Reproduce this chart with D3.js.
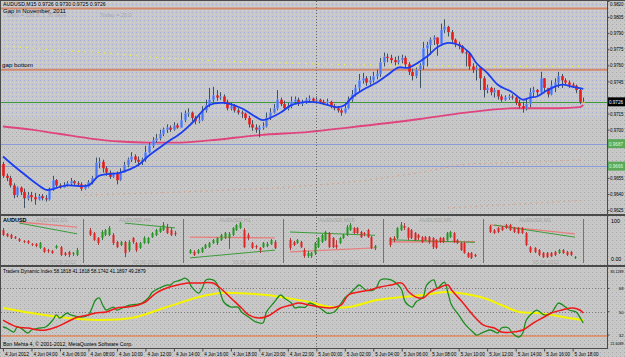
<!DOCTYPE html>
<html><head><meta charset="utf-8">
<script src="https://cdn.jsdelivr.net/npm/d3@7"></script>
<style>
html,body{margin:0;padding:0;background:#c8c8c8;overflow:hidden}
svg{display:block}
text{font-family:"Liberation Sans",Arial,sans-serif}
</style>
</head><body>
<svg id="c" width="625" height="357"></svg>
<script>
// ---------------- DATA (prices in 1/10000, e.g. 9726 = 0.9726) ----------------
const firstOpen = 9668;
const close = [9657,9655,9648,9639,9646,9642,9636,9639,9637,9635,
9638,9636,9635,9644,9653,9648,9646,9648,9650,9652,
9650,9649,9645,9647,9651,9655,9669,9670,9664,9660,
9656,9659,9653,9660,9667,9672,9675,9672,9670,9672,
9679,9685,9690,9692,9696,9700,9702,9700,9704,9702,
9709,9715,9716,9711,9708,9709,9718,9723,9728,9732,
9730,9731,9726,9720,9722,9718,9716,9715,9711,9705,
9702,9700,9702,9703,9711,9716,9720,9728,9724,9720,
9722,9726,9728,9724,9725,9728,9729,9727,9728,9726,
9725,9726,9722,9720,9718,9716,9720,9728,9733,9739,
9746,9748,9744,9746,9750,9752,9763,9768,9767,9765,
9763,9765,9767,9761,9754,9750,9756,9760,9776,9779,
9784,9786,9780,9793,9796,9791,9784,9780,9778,9772,
9771,9759,9756,9758,9748,9737,9739,9735,9737,9731,
9728,9730,9731,9730,9725,9722,9720,9724,9735,9737,
9735,9748,9739,9733,9741,9744,9750,9746,9744,9742,
9741,9737,9726,9726];
const high = [9670,9659,9657,9650,9647,9647,9645,9642,9642,9641,
9640,9640,9639,9646,9657,9654,9650,9651,9652,9655,
9653,9652,9651,9649,9653,9657,9674,9674,9672,9666,
9662,9660,9661,9664,9670,9674,9679,9677,9675,9674,
9685,9688,9693,9696,9700,9702,9705,9704,9707,9706,
9716,9718,9720,9717,9713,9713,9722,9728,9739,9740,
9737,9735,9733,9728,9725,9724,9720,9718,9716,9713,
9709,9705,9704,9707,9716,9720,9724,9737,9730,9727,
9725,9731,9731,9730,9728,9730,9732,9730,9731,9729,
9728,9729,9727,9724,9722,9720,9725,9731,9737,9742,
9752,9753,9750,9750,9754,9756,9767,9772,9771,9770,
9768,9769,9770,9769,9763,9757,9758,9762,9782,9782,
9786,9788,9786,9799,9803,9797,9793,9785,9782,9779,
9774,9772,9762,9760,9759,9750,9742,9740,9739,9737,
9733,9732,9733,9733,9731,9728,9726,9728,9739,9740,
9738,9754,9746,9739,9746,9748,9754,9752,9748,9746,
9744,9742,9739,9730];
const low = [9655,9652,9646,9636,9637,9639,9627,9634,9633,9630,
9634,9634,9633,9634,9643,9646,9645,9646,9647,9648,
9648,9647,9643,9644,9646,9649,9654,9664,9660,9657,
9654,9655,9649,9652,9660,9665,9670,9669,9666,9667,
9670,9678,9683,9688,9690,9694,9697,9698,9699,9701,
9702,9707,9712,9708,9705,9706,9708,9716,9721,9726,
9727,9728,9724,9718,9718,9716,9714,9711,9709,9702,
9699,9697,9693,9700,9702,9709,9715,9718,9722,9718,
9718,9720,9724,9722,9722,9724,9725,9725,9725,9724,
9723,9723,9720,9718,9716,9713,9715,9719,9726,9731,
9735,9743,9741,9742,9744,9747,9749,9759,9763,9762,
9760,9761,9762,9758,9751,9746,9748,9739,9756,9759,
9770,9779,9769,9778,9790,9787,9780,9777,9775,9771,
9759,9756,9753,9746,9737,9730,9734,9732,9730,9728,
9726,9727,9728,9728,9723,9720,9716,9718,9721,9730,
9731,9734,9734,9730,9732,9735,9739,9739,9742,9739,
9739,9734,9724,9725];

// indicator lines on the main chart: [bar, price]
const blueMA = [[0,9675],[5,9661],[12,9644],[13,9644],[18,9648],[24,9648],[27,9657],[33,9660],[38,9667],[41,9676],[46,9688],[50,9697],[53,9706],[58,9723],[62,9725],[67,9720],[71,9712],[73,9709],[78,9716],[81,9723],[86,9726],[89,9725],[94,9721],[96,9723],[98,9730],[101,9737],[105,9744],[108,9751],[111,9758],[114,9758],[119,9768],[122,9777],[125,9781],[128,9779],[131,9772],[133,9762],[136,9753],[139,9742],[143,9735],[146,9728],[148,9730],[150,9731],[153,9737],[157,9742],[160,9740],[163,9738]];
const pinkMA = [[0,9703],[8,9700],[16,9696],[24,9692],[33,9689],[41,9688],[50,9688],[58,9690],[72,9695],[86,9698],[97,9702],[117,9710],[130,9716],[144,9720],[156,9720],[162,9721],[163,9723]];
const yellowDots = [[1,9778],[16,9774],[27,9772],[41,9768],[55,9765],[72,9763],[92,9761],[117,9760],[140,9759],[162,9759]];
const orangeDotsA = [[23,9639],[58,9643],[78,9646],[97,9651],[117,9660],[131,9668],[151,9670],[163,9672]];
const orangeDotsB = [[125,9627],[163,9634]];
const gapLevels = [9813, 9756];
const blueLevels = [9687, 9666];
const bid = 9726;
const priceTicks = [9820,9805,9790,9775,9760,9745,9730,9715,9700,9685,9670,9655,9640,9625];

// time axis
const labelBars = [0,8,16,24,32,40,48,56,64,72,80,88,96,104,112,120,128,136,144,152,160];
const timeLabels = ["4 Jun 2012","4 Jun 04:00","4 Jun 06:00","4 Jun 08:00","4 Jun 10:00","4 Jun 12:00","4 Jun 14:00","4 Jun 16:00","4 Jun 18:00","4 Jun 20:00","4 Jun 22:00","5 Jun 00:00","5 Jun 02:00","5 Jun 04:00","5 Jun 06:00","5 Jun 08:00","5 Jun 10:00","5 Jun 12:00","5 Jun 14:00","5 Jun 16:00","5 Jun 18:00"];
const dayBreakBar = 88;

// multi-timeframe mini charts: candles [open, high, low, close] on a 0..100 scale
const miniTitles = ["AUDUSD,D1","AUDUSD,H4","AUDUSD,H1","AUDUSD,M15","AUDUSD,M5","AUDUSD,M1"];
const miniDates = ["05.06.2012","05.06.2012","05.06.2012","05.06.2012","05.06.2012","05.06.2012"];
const miniD1 = [[78,84,62,65],[68,70,59,62],[65,68,54,57],[59,62,54,58],[54,57,46,49],[49,51,43,47],[49,51,41,43],[41,43,35,38],[41,43,32,35],[30,46,27,43],[30,32,16,19],[24,27,16,22],[22,24,14,16],[30,38,27,35],[32,35,8,11],[16,19,8,11],[19,22,5,11],[14,19,8,16],[11,30,8,24]];
const miniH4 = [[78,84,62,65],[70,73,49,51],[57,59,38,43],[57,78,51,73],[65,81,62,78],[65,89,62,84],[65,70,38,43],[46,49,30,32],[38,49,35,46],[46,49,5,16],[24,51,19,46],[57,59,41,46],[43,46,19,24],[30,46,27,43],[43,62,41,57],[43,59,41,57],[59,73,57,70],[65,81,62,78],[73,86,70,84],[78,100,76,92],[86,95,68,70],[78,84,62,65],[70,76,62,68]];
const miniH1 = [[16,27,14,24],[19,24,8,11],[16,27,14,24],[19,32,16,30],[30,41,27,38],[32,46,30,43],[43,54,41,51],[43,59,38,57],[51,68,49,65],[57,73,54,70],[57,73,27,68],[65,86,62,84],[78,95,76,92],[84,100,81,97],[78,84,30,32],[65,70,51,57],[43,46,27,30],[35,38,27,32],[30,32,16,24],[32,46,30,43],[35,46,32,41],[41,54,38,51],[46,51,27,30]];
const miniM15 = [[51,57,24,30],[46,49,35,38],[43,54,41,51],[46,49,30,32],[24,30,3,8],[8,22,3,16],[8,19,3,16],[16,46,11,43],[32,59,30,57],[46,68,43,65],[51,76,49,73],[70,73,30,32],[57,59,30,32],[38,51,27,32],[43,59,41,57],[57,68,54,65],[65,92,62,86],[78,97,76,92],[84,86,68,70],[84,86,68,70],[73,76,57,59],[70,73,62,68],[78,81,57,59],[59,62,27,30],[30,38,24,35]];
const miniM5 = [[57,59,32,38],[57,62,46,51],[57,86,54,84],[78,100,76,92],[89,97,78,84],[84,86,51,57],[78,81,54,57],[70,73,49,51],[65,68,51,57],[59,62,43,46],[59,62,49,51],[59,62,41,46],[57,59,27,32],[51,54,27,30],[57,59,43,46],[57,59,43,46],[51,73,49,70],[59,76,57,73],[70,73,43,46],[51,54,41,43],[43,46,22,24],[43,46,14,16],[16,19,3,5],[16,19,0,3],[11,14,5,8]];
const miniM1 = [[89,92,70,73],[78,81,68,70],[84,86,70,73],[86,89,76,78],[92,95,81,84],[92,95,76,78],[84,86,70,73],[84,86,68,70],[84,86,68,70],[70,73,35,38],[32,35,16,19],[30,32,16,19],[24,27,8,11],[16,19,3,5],[16,19,3,5],[16,19,5,8],[19,22,8,11],[16,27,14,24],[24,27,14,16],[19,22,8,11],[19,22,8,11],[3,8,0,5]];
const miniData = [miniD1, miniH4, miniH1, miniM15, miniM5, miniM1];
const miniRedLine = [[[4,100],[18,86]], null, [[0,59],[22,57]], [[0,19],[24,30]], [[0,46],[24,47]], [[0,92],[21,68]]];
const miniGreenLine = [[[4,97],[18,68]], [[9,97],[22,84]], [[0,3],[22,24]], [[0,73],[24,64]], [[0,52],[24,45]], [[1,92],[21,59]]];

// Traders Dynamic Index: [bar, value]
const tdiGreen = [[0,38.2],[1,37.4],[3,34.3],[4,38.2],[5,37.4],[7,33.6],[8,35.9],[10,37.4],[12,38.2],[14,43.6],[15,47.5],[16,45.1],[18,49.0],[19,47.5],[22,45.9],[24,47.5],[25,52.9],[26,59.0],[27,60.6],[28,55.2],[29,51.3],[31,53.6],[32,51.3],[34,53.6],[36,55.2],[38,55.9],[39,56.7],[41,61.3],[42,65.2],[44,68.3],[46,70.6],[47,70.6],[48,72.9],[50,74.5],[51,76.0],[52,74.5],[53,69.1],[55,64.4],[56,68.3],[57,74.5],[59,74.5],[60,72.1],[61,65.2],[62,57.5],[64,53.6],[66,53.6],[67,49.8],[69,45.9],[71,42.1],[73,41.3],[74,49.8],[76,56.7],[78,62.9],[79,60.6],[81,56.7],[82,52.9],[83,53.6],[85,53.6],[86,56.7],[89,52.9],[91,49.0],[93,49.8],[95,56.7],[96,60.6],[97,62.9],[99,68.3],[100,70.6],[102,66.7],[104,66.7],[105,69.1],[106,74.5],[109,74.5],[111,70.6],[112,66.7],[113,57.5],[115,53.6],[116,57.5],[118,61.3],[119,70.6],[121,74.5],[122,68.3],[124,72.9],[125,64.4],[126,55.2],[128,47.5],[130,39.7],[132,34.3],[133,32.0],[135,34.3],[137,35.9],[139,33.6],[140,37.4],[142,37.4],[143,33.6],[145,30.5],[146,33.6],[147,43.6],[149,49.8],[150,51.3],[152,47.5],[154,49.0],[155,52.9],[156,56.7],[158,53.6],[159,51.3],[161,49.8],[162,45.9],[163,41.3]];
const tdiRed = [[0,43.5],[2,40.5],[4,38.2],[7,37.4],[10,35.9],[12,35.9],[15,38.2],[18,42.1],[21,45.9],[24,47.5],[26,49.0],[29,49.8],[32,52.9],[35,53.6],[38,55.2],[40,57.5],[43,64.4],[46,68.3],[49,70.6],[52,72.1],[55,72.1],[59,72.1],[61,68.3],[64,60.6],[67,52.9],[69,47.5],[72,45.1],[75,47.5],[78,52.9],[81,55.2],[83,56.7],[86,55.2],[89,53.6],[92,52.9],[95,55.2],[97,62.9],[100,65.2],[103,66.7],[106,69.1],[109,70.6],[112,72.1],[114,65.2],[116,61.3],[118,60.6],[120,65.2],[123,69.1],[125,70.6],[126,66.7],[129,57.5],[132,47.5],[135,39.7],[138,37.4],[140,34.3],[143,34.3],[146,35.9],[149,41.3],[152,45.9],[154,49.0],[157,51.3],[160,52.9],[162,51.3],[163,49.0]];
const tdiYellow = [[0,52.9],[8,49.0],[18,45.1],[27,43.6],[36,45.1],[46,53.6],[55,61.3],[61,64.4],[65,64.4],[74,62.9],[83,59.0],[86,57.5],[92,53.6],[97,53.6],[105,59.0],[112,61.3],[118,62.9],[124,65.2],[128,64.4],[135,60.6],[140,55.2],[145,49.8],[150,49.0],[154,47.5],[159,45.1],[163,43.6]];
const tdiLevels = [68, 50, 32];
const tdiOrangeLevel = 31.3;
const tdiScaleLabels = ["85.1289","68","50","32","21.6089"];
const tdiLabelVals = [85.1289,68,50,32,21.6089];

// ---------------- DRAWING ----------------
const W = 625, H = 357;
const MAIN = {l:1, r:607, t:1, b:214};
const SUB = {t:217, b:265};
const TDI = {t:267, b:348};

const svg = d3.select('#c');
const defs = svg.append('defs');
function dots(id, base, d1, d2){
  const p = defs.append('pattern').attr('id',id).attr('width',4).attr('height',4).attr('patternUnits','userSpaceOnUse');
  p.append('rect').attr('width',4).attr('height',4).attr('fill',base);
  p.append('rect').attr('x',0).attr('y',0).attr('width',1).attr('height',1).attr('fill',d1);
  p.append('rect').attr('x',2).attr('y',2).attr('width',1).attr('height',1).attr('fill',d2);
}
dots('gdots','#c8c8c8','#a8a8a8','#b8b8b8');
dots('bdots','#c8c8c8','#a2aede','#d2d4dc');
defs.append('clipPath').attr('id','clipMain').append('rect').attr('x',MAIN.l).attr('y',MAIN.t).attr('width',MAIN.r-MAIN.l).attr('height',MAIN.b-MAIN.t);
defs.append('clipPath').attr('id','clipTdi').append('rect').attr('x',MAIN.l).attr('y',TDI.t).attr('width',MAIN.r-MAIN.l).attr('height',TDI.b-TDI.t);

svg.append('rect').attr('width',W).attr('height',H).attr('fill','url(#gdots)');

const x = d3.scaleLinear().domain([0,163]).range([3,583.3]);
const yM = d3.scaleLinear().domain([9625,9820]).range([210.1,1.07]);
const yT = d3.scaleLinear().domain([21.6089,85.1289]).range([348.5,266.2]);
const yS = d3.scaleLinear().domain([0,100]).range([259,222]);

function fit(sel, maxW){
  sel.each(function(){ const w = this.getComputedTextLength(); if(w>maxW){ d3.select(this).attr('textLength',maxW).attr('lengthAdjust','spacingAndGlyphs'); } });
  return sel;
}

// blue dotted zone in main chart
svg.append('rect').attr('x',MAIN.l).attr('y',MAIN.t).attr('width',MAIN.r-MAIN.l).attr('height',yM(9712)-MAIN.t).attr('fill','url(#bdots)');

const gMain = svg.append('g').attr('clip-path','url(#clipMain)');

// level lines
gapLevels.forEach(p=>gMain.append('line').attr('x1',MAIN.l).attr('x2',MAIN.r).attr('y1',yM(p)).attr('y2',yM(p)).attr('stroke','#d4886a').attr('stroke-width',2));
blueLevels.forEach(p=>gMain.append('line').attr('x1',MAIN.l).attr('x2',MAIN.r).attr('y1',Math.round(yM(p))+0.5).attr('y2',Math.round(yM(p))+0.5).attr('stroke','#8a9ad8').attr('stroke-width',1));
gMain.append('line').attr('x1',MAIN.l).attr('x2',MAIN.r).attr('y1',Math.round(yM(bid))+0.5).attr('y2',Math.round(yM(bid))+0.5).attr('stroke','#3c9a3c').attr('stroke-width',1);

const lineM = d3.line().x(d=>x(d[0])).y(d=>yM(d[1])).curve(d3.curveMonotoneX);
gMain.append('path').datum(yellowDots).attr('d',lineM).attr('fill','none').attr('stroke','#eeee40').attr('stroke-width',1.2).attr('stroke-dasharray','1.5,5');
gMain.append('path').datum(orangeDotsA).attr('d',lineM).attr('fill','none').attr('stroke','#e09a78').attr('stroke-width',1).attr('stroke-dasharray','1.5,4');
gMain.append('path').datum(orangeDotsB).attr('d',lineM).attr('fill','none').attr('stroke','#e09a78').attr('stroke-width',1).attr('stroke-dasharray','1.5,4');

// day break
svg.append('line').attr('x1',Math.round(x(dayBreakBar))+0.5).attr('x2',Math.round(x(dayBreakBar))+0.5).attr('y1',MAIN.t).attr('y2',TDI.b).attr('stroke','#6a6a6a').attr('stroke-dasharray','1,2');

// pink MA
gMain.append('path').datum(pinkMA).attr('d',lineM).attr('fill','none').attr('stroke','#e0447e').attr('stroke-width',1.8);

// candles
const bars = close.map((c,i)=>{const o = i===0?firstOpen:close[i-1];return {i,o,c,h:Math.max(high[i],o,c),l:Math.min(low[i],o,c)};});
gMain.selectAll('.wick').data(bars).enter().append('line')
  .attr('x1',d=>Math.round(x(d.i))+0.5).attr('x2',d=>Math.round(x(d.i))+0.5)
  .attr('y1',d=>yM(d.h)).attr('y2',d=>yM(d.l)).attr('stroke','#3e5266').attr('stroke-width',1);
gMain.selectAll('.body').data(bars).enter().append('rect')
  .attr('x',d=>Math.round(x(d.i))-0.8).attr('width',2.6)
  .attr('y',d=>yM(Math.max(d.o,d.c))).attr('height',d=>Math.max(1,Math.abs(yM(d.o)-yM(d.c))))
  .attr('fill',d=>d.c>d.o?'#4a72f0':(d.c<d.o?'#e81c1c':'#e8b030'))
  .attr('stroke',d=>d.c>d.o?'#90b0ff':'none').attr('stroke-width',0.4);

// blue MA
gMain.append('path').datum(blueMA).attr('d',d3.line().x(d=>x(d[0])).y(d=>yM(d[1])).curve(d3.curveCatmullRom)).attr('fill','none').attr('stroke','#1c3ef0').attr('stroke-width',1.8);

// main texts
svg.append('text').attr('x',3).attr('y',6).attr('font-size',5.2).attr('fill','#000').text('AUDUSD,M15  0.9726 0.9730 0.9725 0.9726');
svg.append('text').attr('x',3).attr('y',12.5).attr('font-size',6).attr('fill','#000').text('Gap in November, 2011');
svg.append('text').attr('x',7).attr('y',17).attr('font-size',5.5).attr('fill','#a4a6b4').text('Daily = 131.0   .1.30 days');
svg.append('text').attr('x',100).attr('y',17).attr('font-size',5.5).attr('fill','#a4a6b4').text('Today = 20.0');
svg.append('text').attr('x',2).attr('y',67).attr('font-size',6.2).attr('fill','#000').text('gap bottom');

// ---- mini charts ----
const miniLefts = [0,83,183,283,383,483];
miniData.forEach((data,k)=>{
  const L = miniLefts[k];
  const xm = d3.scaleLinear().domain([0,data.length-1]).range(k===0?[L+3,L+77]:[L+7,L+92]);
  const g = svg.append('g');
  const lm = d3.line().x(d=>xm(d[0])).y(d=>yS(d[1]));
  if(miniRedLine[k]) g.append('path').datum(miniRedLine[k]).attr('d',lm).attr('fill','none').attr('stroke','#e88080').attr('stroke-width',1.3);
  if(miniGreenLine[k]) g.append('path').datum(miniGreenLine[k]).attr('d',lm).attr('fill','none').attr('stroke','#3c9c3c').attr('stroke-width',1);
  data.forEach((d,i)=>{
    const [o,h,l,c] = d; const col = c>=o?'#229a22':'#e02424';
    const xx = Math.round(xm(i));
    g.append('line').attr('x1',xx+0.5).attr('x2',xx+0.5).attr('y1',yS(h)).attr('y2',yS(l)).attr('stroke',c>=o?'#3a7a3a':'#a04040').attr('stroke-width',1);
    g.append('rect').attr('x',xx-0.5).attr('width',2).attr('y',yS(Math.max(o,c))).attr('height',Math.max(1,Math.abs(yS(o)-yS(c)))).attr('fill',col);
  });
  if(k>0) svg.append('line').attr('x1',L+0.5).attr('x2',L+0.5).attr('y1',219).attr('y2',263).attr('stroke','#3c9c3c');
  svg.append('text').attr('x',L+36).attr('y',222).attr('font-size',5.5).attr('fill','#a2a2a2').text(miniTitles[k]);
  svg.append('text').attr('x',L+50).attr('y',264).attr('font-size',5.2).attr('fill','#a8a8a8').text(miniDates[k]);
});
svg.append('line').attr('x1',583.5).attr('x2',583.5).attr('y1',219).attr('y2',263).attr('stroke','#3c9c3c');
svg.append('text').attr('x',3).attr('y',222).attr('font-size',5.5).attr('font-weight','bold').attr('fill','#000').text('AUDUSD');

// ---- TDI ----
const gT = svg.append('g').attr('clip-path','url(#clipTdi)');
tdiLevels.forEach(v=>gT.append('line').attr('x1',MAIN.l).attr('x2',MAIN.r).attr('y1',Math.round(yT(v))+0.5).attr('y2',Math.round(yT(v))+0.5).attr('stroke','#7c7c7c').attr('stroke-dasharray','1,2'));
gT.append('line').attr('x1',MAIN.l).attr('x2',MAIN.r).attr('y1',yT(tdiOrangeLevel)).attr('y2',yT(tdiOrangeLevel)).attr('stroke','#e48c5c').attr('stroke-width',1.6);
const lineT = d3.line().x(d=>x(d[0])).y(d=>yT(d[1])).curve(d3.curveCatmullRom);
gT.append('path').datum(tdiYellow).attr('d',lineT).attr('fill','none').attr('stroke','#f4f400').attr('stroke-width',2);
gT.append('path').datum(tdiGreen).attr('d',lineT).attr('fill','none').attr('stroke','#1e8c1e').attr('stroke-width',1.3);
gT.append('path').datum(tdiRed).attr('d',lineT).attr('fill','none').attr('stroke','#f01818').attr('stroke-width',1.5);
svg.append('text').attr('x',3).attr('y',273).attr('font-size',4.8).attr('fill','#000').text('Traders Dynamic Index 58.1818 41.1818 58.1742 41.1897 49.2879');
svg.append('text').attr('x',3).attr('y',346).attr('font-size',5.2).attr('fill','#000').text('Bon Mehta 4, © 2001-2012, MetaQuotes Software Corp.');

// ---- borders ----
const dark = '#4a4a4a';
svg.append('rect').attr('x',0).attr('y',0).attr('width',W).attr('height',1).attr('fill',dark);
svg.append('rect').attr('x',0).attr('y',0).attr('width',1).attr('height',TDI.b).attr('fill',dark);
svg.append('rect').attr('x',0).attr('y',MAIN.b).attr('width',W).attr('height',2).attr('fill',dark);
svg.append('rect').attr('x',0).attr('y',SUB.b).attr('width',W).attr('height',2).attr('fill',dark);
svg.append('rect').attr('x',0).attr('y',TDI.b).attr('width',MAIN.r+1).attr('height',1).attr('fill',dark);
svg.append('rect').attr('x',MAIN.r).attr('y',0).attr('width',1).attr('height',TDI.b+1).attr('fill',dark);

// ---- price axis ----
const boxes = [{p:bid, bg:'#000', fg:'#fff'}].concat(blueLevels.map(p=>({p,bg:'#5aa85a',fg:'#dcffdc'})));
const ax = svg.append('g').attr('transform',`translate(${MAIN.r+0.5},0)`)
  .call(d3.axisRight(yM).tickValues(priceTicks.filter(t=>boxes.every(b=>Math.abs(yM(t)-yM(b.p))>5))).tickFormat(d=>(d/10000).toFixed(4)).tickSize(2).tickPadding(0.5));
ax.select('.domain').remove();
ax.selectAll('line').attr('stroke',dark);
fit(ax.selectAll('text').attr('font-size',5).attr('fill','#000').attr('font-family','Liberation Sans, Arial'), 13.5);
ax.selectAll('.tick').filter(d=>yM(d)<4).select('text').attr('dy','0.9em');
boxes.forEach(b=>{
  const yy = yM(b.p);
  svg.append('rect').attr('x',MAIN.r+1).attr('y',yy-4.5).attr('width',W-MAIN.r-1).attr('height',9).attr('fill',b.bg);
  fit(svg.append('text').attr('x',MAIN.r+2).attr('y',yy+2).attr('font-size',5).attr('fill',b.fg).text((b.p/10000).toFixed(4)), 14);
});
// sub panel axis labels
svg.append('text').attr('x',MAIN.r+4).attr('y',223).attr('font-size',5.3).text('100');
svg.append('text').attr('x',MAIN.r+4).attr('y',261).attr('font-size',5.3).text('0.00');
// TDI axis labels, right-aligned inside the scale strip
const tAx = svg.append('g');
tdiLabelVals.forEach((v,i)=>{
  let yy = yT(v)+1.8;
  if(i===0) yy = yT(v)+6.3;
  if(i===4) yy = yT(v)-3.2;
  fit(tAx.append('text').attr('x',W-1.5).attr('y',yy).attr('text-anchor','end').attr('font-size',4.2).attr('fill','#000').text(tdiScaleLabels[i]), 13);
  if(i>0&&i<4) tAx.append('line').attr('x1',MAIN.r).attr('x2',MAIN.r+2.5).attr('y1',yT(v)).attr('y2',yT(v)).attr('stroke',dark);
});

// ---- time axis ----
const tx = svg.append('g').attr('transform',`translate(0,${TDI.b+0.5})`)
  .call(d3.axisBottom(x).tickValues(labelBars).tickFormat((d,i)=>timeLabels[i]).tickSize(3).tickPadding(1));
tx.select('.domain').remove();
tx.selectAll('line').attr('stroke',dark);
fit(tx.selectAll('text').attr('font-size',5.3).attr('fill','#000').attr('text-anchor','start').attr('dx',1.5).attr('font-family','Liberation Sans, Arial'), 24);
</script>
</body></html>
